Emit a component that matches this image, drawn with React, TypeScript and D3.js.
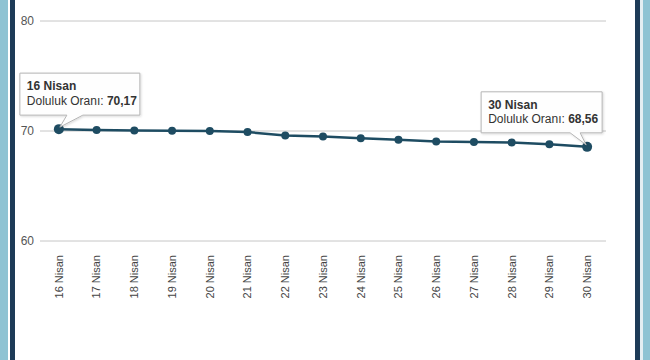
import React from "react";
import * as d3 from "d3";

const categories = ["16 Nisan","17 Nisan","18 Nisan","19 Nisan","20 Nisan","21 Nisan","22 Nisan","23 Nisan","24 Nisan","25 Nisan","26 Nisan","27 Nisan","28 Nisan","29 Nisan","30 Nisan"];
const values = [70.17, 70.1, 70.05, 70.02, 70.0, 69.9, 69.6, 69.5, 69.35, 69.2, 69.05, 69.0, 68.95, 68.8, 68.56];
const yTicks = [60, 70, 80];
const seriesName = "Doluluk Oranı";

const W = 650, H = 360;
const FONT = "'Liberation Sans', Arial, sans-serif";

export default function App() {
  const x = d3.scalePoint<string>().domain(categories).range([40, 606]).padding(0.5);
  const y = d3.scaleLinear().domain([60, 80]).range([241, 21]);
  const line = d3.line<number>().x((_, i) => x(categories[i])!).y(d => y(d));
  const fmt = (v: number) => v.toFixed(2).replace(".", ",");

  const first = 0, last = values.length - 1;
  const p0 = { x: x(categories[first])!, y: y(values[first]) };
  const p1 = { x: x(categories[last])!, y: y(values[last]) };

  // tooltip boxes relative to points
  const t0 = { l: p0.x - 39, r: p0.x + 81, t: p0.y - 56, b: p0.y - 14 };
  const t1 = { l: p1.x - 106, r: p1.x + 15, t: p1.y - 55, b: p1.y - 14 };
  const tip0 = `M${t0.l},${t0.t} H${t0.r} V${t0.b} H${p0.x + 24} L${p0.x + 1},${p0.y - 2} L${p0.x + 8},${t0.b} H${t0.l} Z`;
  const tip1 = `M${t1.l},${t1.t} H${t1.r} V${t1.b} H${p1.x - 7} L${p1.x - 1},${p1.y - 2} L${p1.x - 17},${t1.b} H${t1.l} Z`;

  return (
    <svg width={W} height={H} style={{ position: "absolute", left: 0, top: 0, background: "#fff" }} fontFamily={FONT}>
      <defs>
        <filter id="sh" x="-10%" y="-10%" width="130%" height="140%">
          <feDropShadow dx="1" dy="1" stdDeviation="1" floodColor="#000" floodOpacity="0.15" />
        </filter>
      </defs>
      <rect x={0} y={0} width={W} height={H} fill="#fff" />
      {/* frame borders */}
      <rect x={0} y={0} width={8} height={H} fill="#8ec3d3" />
      <rect x={10} y={0} width={5} height={H} fill="#1d3b57" />
      <rect x={635} y={0} width={5} height={H} fill="#1d3b57" />
      <rect x={640} y={0} width={3} height={H} fill="#e4eef2" />
      <rect x={643} y={0} width={7} height={H} fill="#8ec3d3" />

      {yTicks.map(t => (
        <g key={t}>
          <line x1={40} x2={606} y1={y(t)} y2={y(t)} stroke="#c6c6c6" strokeWidth={1} />
          <text x={34} y={y(t)} dy="0.35em" textAnchor="end" fontSize={12} fill="#555">{t}</text>
        </g>
      ))}

      {categories.map(c => (
        <text key={c} transform={`translate(${x(c)},255) rotate(-90)`} textAnchor="end" dy="0.35em" fontSize={11} fill="#444">{c}</text>
      ))}

      <path d={line(values)!} fill="none" stroke="#1e4c62" strokeWidth={2.5} />
      {values.map((v, i) => (
        <circle key={i} cx={x(categories[i])} cy={y(v)} r={i === 0 || i === last ? 5 : 4} fill="#1e4c62" />
      ))}

      <path d={tip0} fill="rgba(255,255,255,0.92)" stroke="#b5b5b5" strokeWidth={1} filter="url(#sh)" />
      <text x={t0.l + 7} y={t0.t + 17} fontSize={12} fontWeight="bold" fill="#333">{categories[first]}</text>
      <text x={t0.l + 7} y={t0.t + 32} fontSize={12} fill="#333">{seriesName}: <tspan fontWeight="bold">{fmt(values[first])}</tspan></text>

      <path d={tip1} fill="rgba(255,255,255,0.92)" stroke="#b5b5b5" strokeWidth={1} filter="url(#sh)" />
      <text x={t1.l + 7} y={t1.t + 17} fontSize={12} fontWeight="bold" fill="#333">{categories[last]}</text>
      <text x={t1.l + 7} y={t1.t + 31} fontSize={12} fill="#333">{seriesName}: <tspan fontWeight="bold">{fmt(values[last])}</tspan></text>
    </svg>
  );
}
